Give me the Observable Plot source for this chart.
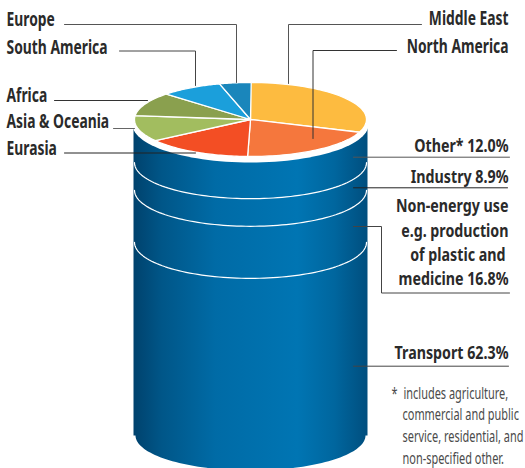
<!DOCTYPE html>
<html>
<head>
<meta charset="utf-8">
<script src="https://cdn.jsdelivr.net/npm/d3@7"></script>
<script src="https://cdn.jsdelivr.net/npm/@observablehq/plot@0.6"></script>
<style>
  html, body { margin: 0; padding: 0; background: #fff; }
  svg { display: block; }
</style>
</head>
<body>
<div id="chart"></div>
<script>
// Oil producers by region (top of the drum), clockwise from twelve o'clock
const regions = ["Middle East", "North America", "Eurasia", "Asia & Oceania", "Africa", "South America", "Europe"];
const regionShares = [30.6, 19.8, 14.9, 11.4, 10.4, 8.6, 4.4];
const regionColors = ["#fdbb40", "#f5773d", "#f34e24", "#a2bd5f", "#8aa04e", "#1b9fdb", "#1a86bb"];

// Oil consumption by sector (drum body), top to bottom
const sectors = ["Other*", "Industry", "Non-energy use", "Transport"];
const sectorShares = [12.0, 8.9, 16.8, 62.3];

// Drum geometry
const cx = 250, rx = 116, ry = 37;
const pieY = 119, bodyTop = 125, bodyBottom = 435;
const stackY = pct => bodyTop + (bodyBottom - bodyTop) * pct / 100;

// One outline per slice, on the tilted ellipse of the drum top
let acc = 0;
const pieOutline = regions.flatMap((region, i) => {
  const a0 = acc / 100 * 2 * Math.PI;
  acc += regionShares[i];
  const a1 = acc / 100 * 2 * Math.PI;
  const steps = d3.range(0, 41).map(k => a0 + (a1 - a0) * k / 40);
  return [
    {region, x: cx, y: pieY},
    ...steps.map(a => ({region, x: cx + rx * Math.sin(a), y: pieY - ry * Math.cos(a)})),
    {region, x: cx, y: pieY}
  ];
});

// Lower half of an ellipse at a given height
const lowerArc = (yc, r, h) => d3.range(0, 81).map(k => {
  const a = Math.PI * k / 80;
  return {x: cx + r * Math.cos(Math.PI - a), y: yc + h * Math.sin(a)};
});

const whiteRim = d3.range(0, 121).map(k => {
  const a = 2 * Math.PI * k / 120;
  return {x: cx + 118 * Math.cos(a), y: pieY + 5 + 38 * Math.sin(a)};
});

const bodyOutline = [
  {x: cx - 117, y: bodyTop},
  {x: cx - 117, y: bodyBottom},
  ...lowerArc(bodyBottom, 115, 35),
  {x: cx + 117, y: bodyBottom},
  {x: cx + 117, y: bodyTop}
];

// White rings between the consumption sectors
const ringShares = Array.from(d3.cumsum(sectorShares)).slice(0, 3);
const rings = ringShares.flatMap((pct, i) =>
  lowerArc(stackY(pct), 116, 36).map(p => ({...p, ring: i}))
);

// Leader lines from labels to the drawing
const leaderPaths = [
  {stroke: "#555", pts: [[64, 24], [236, 24], [236, 82]]},
  {stroke: "#444", pts: [[119, 50.5], [195, 50.5], [195, 85]]},
  {stroke: "#333", pts: [[54, 100], [147, 100]]},
  {stroke: "#666", pts: [[113, 128], [134, 128]]},
  {stroke: "#222", pts: [[64, 152.5], [195, 152.5]]},
  {stroke: "#555", pts: [[421, 24], [288, 24], [288, 83]]},
  {stroke: "#333", pts: [[396, 50], [312.5, 50], [312.5, 138]]},
  {stroke: "#555", pts: [[353, 156.7], [509, 156.7]]},
  {stroke: "#222", pts: [[353, 187.3], [507, 187.3]]},
  {stroke: "#444", pts: [[353, 226], [381, 226], [381, 292.5], [509, 292.5]]},
  {stroke: "#444", pts: [[353, 365.7], [508, 365.7]]}
];
const leaders = leaderPaths.flatMap((l, i) =>
  l.pts.map(([x, y]) => ({x, y, leader: i, stroke: l.stroke}))
);

const [other, industry, nonEnergy, transport] = sectorShares;
const regionLeft = [
  {text: "Europe", x: 6, y: 19.5},
  {text: "South America", x: 6, y: 47.5},
  {text: "Africa", x: 6, y: 95},
  {text: "Asia & Oceania", x: 6, y: 121.5},
  {text: "Eurasia", x: 6, y: 148.5}
];
const regionRight = [
  {text: "Middle East", x: 508, y: 18},
  {text: "North America", x: 508, y: 46}
];
const sectorLabels = [
  {text: `${sectors[0]} ${other.toFixed(1)}%`, x: 508, y: 146},
  {text: `${sectors[1]} ${industry.toFixed(1)}%`, x: 508, y: 177},
  {text: sectors[2], x: 508, y: 206},
  {text: "e.g. production", x: 508, y: 230.5},
  {text: "of plastic and", x: 505, y: 254.5},
  {text: `medicine ${nonEnergy.toFixed(1)}%`, x: 508, y: 278.5},
  {text: `${sectors[3]} ${transport.toFixed(1)}%`, x: 508, y: 353}
];
const footnote = [
  {text: "*", x: 391, y: 393},
  {text: "includes agriculture,", x: 403, y: 393},
  {text: "commercial and public", x: 402, y: 414.5},
  {text: "service, residential, and", x: 402, y: 436.5},
  {text: "non-specified other.", x: 402, y: 458}
];

// Horizontal shading of the drum body
const bodyShade = () => {
  const defs = d3.create("svg:defs");
  const g = defs.append("linearGradient").attr("id", "drumShade")
    .attr("gradientUnits", "userSpaceOnUse")
    .attr("x1", 133).attr("x2", 367).attr("y1", 0).attr("y2", 0);
  [[0, "#00426d"], [0.12, "#005688"], [0.35, "#006ba6"], [0.7, "#0075b3"], [0.86, "#00669e"], [1, "#004e7e"]]
    .forEach(([o, c]) => g.append("stop").attr("offset", o).attr("stop-color", c));
  return defs.node();
};

const fontFamily = '"Noto Sans", sans-serif';
const labelOpts = {
  x: "x", y: "y", text: "text",
  fontFamily, fontWeight: 700, fontSize: 19.5, fill: "#2a2a2a"
};

const chart = Plot.plot({
  width: 525,
  height: 468,
  margin: 0,
  x: {domain: [0, 525], range: [0, 525], axis: null},
  y: {domain: [0, 468], range: [0, 468], axis: null},
  color: {domain: regions, range: regionColors},
  style: {background: "#fff"},
  marks: [
    bodyShade,
    Plot.line(bodyOutline, {x: "x", y: "y", fill: "url(#drumShade)", stroke: "none", curve: "linear"}),
    Plot.line(rings, {x: "x", y: "y", z: "ring", stroke: "#fff", strokeWidth: 1.2}),
    Plot.line(whiteRim, {x: "x", y: "y", fill: "#fff", stroke: "none"}),
    Plot.line(pieOutline, {x: "x", y: "y", z: "region", fill: "region", stroke: "#fff", strokeWidth: 1.3, strokeLinejoin: "round"}),
    Plot.line(leaders, {x: "x", y: "y", z: "leader", stroke: "stroke", strokeWidth: 1}),
    Plot.text(regionLeft, {...labelOpts, textAnchor: "start", className: "region-label"}),
    Plot.text(regionRight, {...labelOpts, textAnchor: "end", className: "region-label"}),
    Plot.text(sectorLabels, {...labelOpts, fontSize: 18.5, textAnchor: "end", className: "sector-label"}),
    Plot.text(footnote, {
      x: "x", y: "y", text: "text", textAnchor: "start",
      fontFamily, fontSize: 16, fill: "#4a4a4a", className: "note-label"
    })
  ]
});
document.getElementById("chart").append(chart);

// The labels are set in a condensed cut: squeeze each run about its anchor
const squeeze = (selector, factor) => {
  chart.querySelectorAll(selector + " text").forEach(t => {
    t.setAttribute("transform", `${t.getAttribute("transform") ?? ""} scale(${factor},1)`);
  });
};
squeeze(".region-label", 0.71);
squeeze(".sector-label", 0.77);
squeeze(".note-label", 0.685);
</script>
</body>
</html>
